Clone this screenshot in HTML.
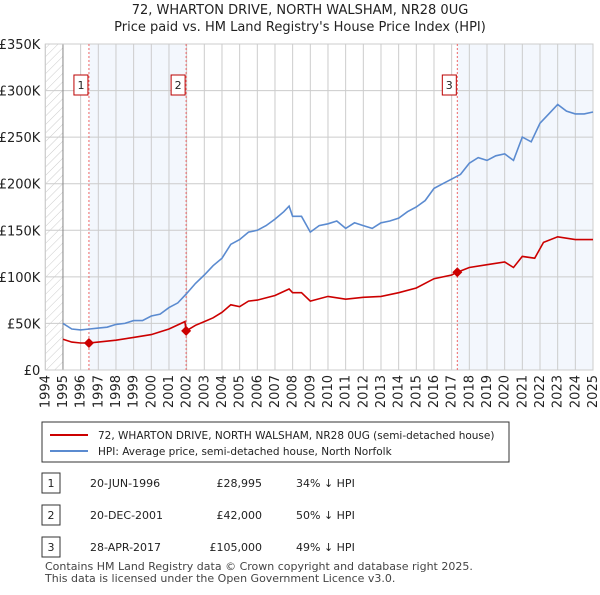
<!DOCTYPE html>
<html><head><meta charset="utf-8"><style>
body{margin:0;background:#fff;font-family:"Liberation Sans","DejaVu Sans",sans-serif;}
</style></head><body>
<svg width="600" height="590" font-family="DejaVu Sans, Liberation Sans, sans-serif">
<defs><pattern id="h" width="6" height="6" patternUnits="userSpaceOnUse" patternTransform="rotate(45)"><line x1="0" y1="0" x2="0" y2="6" stroke="#ccc" stroke-width="1"/></pattern></defs>
<text x="300" y="14" text-anchor="middle" font-size="13" fill="#222">72, WHARTON DRIVE, NORTH WALSHAM, NR28 0UG</text>
<text x="300" y="31" text-anchor="middle" font-size="13" fill="#222">Price paid vs. HM Land Registry's House Price Index (HPI)</text>
<g id="plot"></g>
<rect x="42" y="422" width="467" height="40" fill="#fff" stroke="#333"/>
<line x1="50" y1="435" x2="88" y2="435" stroke="#cc0000" stroke-width="2"/>
<text x="98" y="439" font-size="10.5" fill="#222">72, WHARTON DRIVE, NORTH WALSHAM, NR28 0UG (semi-detached house)</text>
<line x1="50" y1="451" x2="88" y2="451" stroke="#5b8bd0" stroke-width="2"/>
<text x="98" y="455" font-size="10.5" fill="#222">HPI: Average price, semi-detached house, North Norfolk</text>
<g id="tbl" font-size="11" fill="#222"></g>
<text x="45" y="570" font-size="11" fill="#444">Contains HM Land Registry data © Crown copyright and database right 2025.</text>
<text x="45" y="582" font-size="11" fill="#444">This data is licensed under the Open Government Licence v3.0.</text>
</svg>
<script>
const hpiYears=[1995,1995.5,1996,1996.5,1997,1997.5,1998,1998.5,1999,1999.5,2000,2000.5,2001,2001.5,2002,2002.5,2003,2003.5,2004,2004.5,2005,2005.5,2006,2006.5,2007,2007.5,2007.8,2008,2008.5,2009,2009.5,2010,2010.5,2011,2011.5,2012,2012.5,2013,2013.5,2014,2014.5,2015,2015.5,2016,2016.5,2017,2017.5,2018,2018.5,2019,2019.5,2020,2020.5,2021,2021.5,2022,2022.5,2023,2023.5,2024,2024.5,2025];
const hpiValues=[50,44,43,44,45,46,49,50,53,53,58,60,67,72,82,93,102,112,120,135,140,148,150,155,162,170,176,165,165,148,155,157,160,152,158,155,152,158,160,163,170,175,182,195,200,205,210,222,228,225,230,232,225,250,245,265,275,285,278,275,275,277];
const redYears=[1995,1995.5,1996,1996.47,1997,1998,1999,2000,2001,2001.9,2001.97,2002.5,2003,2003.5,2004,2004.5,2005,2005.5,2006,2007,2007.8,2008,2008.5,2009,2010,2011,2012,2013,2014,2015,2016,2017,2017.32,2018,2019,2020,2020.5,2021,2021.7,2022.2,2023,2024,2025];
const redValues=[33,30,29,29,30,32,35,38,44,52,42,48,52,56,62,70,68,74,75,80,87,83,83,74,79,76,78,79,83,88,98,102,105,110,113,116,110,122,120,137,143,140,140];
const saleYears=[1996.47,2001.97,2017.32];
const saleValues=[28.995,42,105];
const saleLabels=["1","2","3"];
const saleDates=["20-JUN-1996","20-DEC-2001","28-APR-2017"];
const salePrices=["£28,995","£42,000","£105,000"];
const saleDiffs=["34% ↓ HPI","50% ↓ HPI","49% ↓ HPI"];
const yTicks=[0,50,100,150,200,250,300,350];
const yTickLabels=["£0","£50K","£100K","£150K","£200K","£250K","£300K","£350K"];
const NS="http://www.w3.org/2000/svg";
const X0=45.3,X1=593,Y0=370,Y1=44;
const x=y=>X0+(y-1994)*(X1-X0)/31;
const yv=v=>Y0-v*(Y0-Y1)/350;
const g=document.getElementById('plot');
function mk(t,a,p){const e=document.createElementNS(NS,t);for(const k in a)e.setAttribute(k,a[k]);(p||g).appendChild(e);return e;}
let e;
e=mk('rect',{x:X0,y:Y1,width:x(1995)-X0,height:Y0-Y1,fill:'url(#h)'});


e=mk('rect',{x:x(saleYears[0]),y:Y1,width:x(saleYears[1])-x(saleYears[0]),height:Y0-Y1,fill:'#eef3fc',opacity:0.7});


e=mk('rect',{x:x(saleYears[2]),y:Y1,width:X1-x(saleYears[2]),height:Y0-Y1,fill:'#eef3fc',opacity:0.7});


for(let yr=1994;yr<=2025;yr++){
 e=mk('line',{x1:x(yr),x2:x(yr),y1:Y1,y2:Y0,stroke:'#ccc'});
 
 
 e=mk('text',{transform:`translate(${x(yr)+4},${Y0+5}) rotate(-90)`,'text-anchor':'end','font-size':13,fill:'#222'});
 e.textContent=yr;
 
 
}
yTicks.forEach((t,i)=>{
 e=mk('line',{x1:X0,x2:X1,y1:yv(t),y2:yv(t),stroke:'#ccc'});
 
 
 e=mk('text',{x:X0-5,y:yv(t)+5,'text-anchor':'end','font-size':13,fill:'#222'});
 e.textContent=yTickLabels[i];
 
 
});
e=mk('line',{x1:x(1995),x2:x(1995),y1:Y1,y2:Y0,stroke:'#888'});


e=mk('rect',{x:X0,y:Y1,width:X1-X0,height:Y0-Y1,fill:'none',stroke:'#ccc'});


saleYears.forEach((s,i)=>{
 e=mk('line',{x1:x(s),x2:x(s),y1:Y1,y2:Y0,stroke:'#e66','stroke-dasharray':'2,2'});
 
 
 e=mk('rect',{x:x(s)-15,y:75,width:14,height:20,fill:'#fff',stroke:'#b00'});
 
 
 e=mk('text',{x:x(s)-8,y:89,'text-anchor':'middle','font-size':11,fill:'#222'});
 e.textContent=saleLabels[i];
 
 
});
const pts=(xs,vs)=>xs.map((a,i)=>x(a).toFixed(1)+','+yv(vs[i]).toFixed(1)).join(' ');
e=mk('polyline',{points:pts(hpiYears,hpiValues),fill:'none',stroke:'#5b8bd0','stroke-width':1.6});


e=mk('polyline',{points:pts(redYears,redValues),fill:'none',stroke:'#cc0000','stroke-width':1.6});


saleYears.forEach((s,i)=>{
 const cx=x(s),cy=yv(saleValues[i]);
 e=mk('polygon',{points:`${cx},${cy-5} ${cx+5},${cy} ${cx},${cy+5} ${cx-5},${cy}`,fill:'#cc0000'});
 
 
});
const tb=document.getElementById('tbl');
saleYears.forEach((s,i)=>{
 const cy=485+i*32;
 e=mk('rect',{x:42,y:cy-12,width:18,height:20,fill:'#fff',stroke:'#333'},tb);
 
 
 const cols=[[51,saleLabels[i],'middle'],[90,saleDates[i],'start'],[262,salePrices[i],'end'],[296,saleDiffs[i],'start']];
 cols.forEach(c=>{e=mk('text',{x:c[0],y:cy+2,'text-anchor':c[2]},tb);e.textContent=c[1];
 
 });
});
</script>
</body></html>
